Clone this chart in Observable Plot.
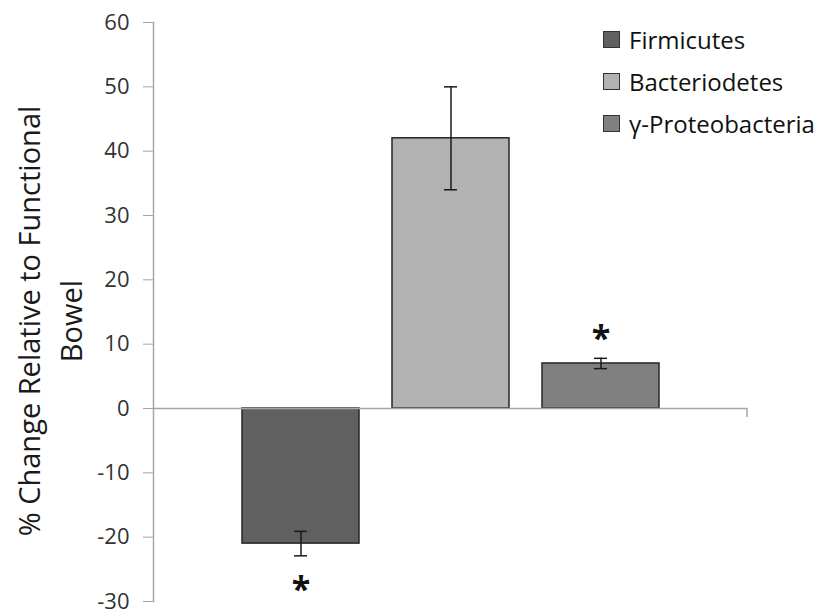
<!DOCTYPE html>
<html>
<head>
<meta charset="utf-8">
<script src="https://cdn.jsdelivr.net/npm/d3@7"></script>
<script src="https://cdn.jsdelivr.net/npm/@observablehq/plot@0.6"></script>
<style>
  html, body { margin: 0; padding: 0; background: #fff; }
  #wrap { position: relative; width: 830px; height: 611px; font-family: "Open Sans", sans-serif; }
  #legend { position: absolute; left: 603px; top: 18px; }
  .row { display: flex; align-items: center; height: 42px; font-size: 24px; color: #111; }
  .sw { width: 15px; height: 15px; border: 1px solid #333; margin-right: 9px; box-sizing: content-box; }
</style>
</head>
<body>
<div id="wrap">
  <div id="chart"></div>
  <div id="legend"></div>
</div>
<script>
const categories = ["Firmicutes", "Bacteriodetes", "γ-Proteobacteria"];
const values = [-21, 42, 7];
const errors = [1.9, 8, 0.8];
const colors = ["#606060", "#b2b2b2", "#808080"];
const starCategories = ["Firmicutes", "γ-Proteobacteria"];
const starValues = [-28.3, 10.75];
const yTicks = [-30, -20, -10, 0, 10, 20, 30, 40, 50, 60];
const yLabel = "% Change Relative to Functional\nBowel";

const table = categories.map((c, i) => ({
  category: c, value: values[i], lo: values[i] - errors[i], hi: values[i] + errors[i]
}));
const stars = starCategories.map((c, i) => ({category: c, y: starValues[i]}));

const plot = Plot.plot({
  width: 830,
  height: 611,
  marginLeft: 153,
  marginRight: 83,
  marginTop: 22,
  marginBottom: 10,
  x: {domain: categories, paddingInner: 0.221, paddingOuter: 0.587, axis: null},
  y: {domain: [-30, 60], axis: null},
  color: {domain: categories, range: colors},
  style: {fontFamily: "'Open Sans', sans-serif", background: "white", color: "#222", overflow: "visible"},
  marks: [
    Plot.frame({anchor: "left", stroke: "#a6a6a6", strokeWidth: 1.5}),
    Plot.axisY({ticks: yTicks, tickSize: 10, tickPadding: 14, fontSize: 22, stroke: "#a6a6a6", fill: "#333", label: null, tickFormat: d => String(d)}),
    Plot.barY(table, {x: "category", y: "value", fill: "category", stroke: "#262626", strokeWidth: 1.5}),
    Plot.ruleY([0], {stroke: "#a6a6a6", strokeWidth: 1.5}),
    Plot.ruleX(table, {x: "category", y1: "lo", y2: "hi", stroke: "#1a1a1a", strokeWidth: 1.5}),
    Plot.tickY(table, {x: "category", y: "lo", insetLeft: 52, insetRight: 52, stroke: "#1a1a1a", strokeWidth: 1.5}),
    Plot.tickY(table, {x: "category", y: "hi", insetLeft: 52, insetRight: 52, stroke: "#1a1a1a", strokeWidth: 1.5}),
    Plot.text(stars, {x: "category", y: "y", text: d => "*", fontSize: 34, fontWeight: "bold", fill: "#111"}),
    Plot.text([yLabel], {frameAnchor: "left", textAnchor: "middle", rotate: -90, dx: -106, dy: 9, fontSize: 29, lineHeight: 1.45, text: d => d, fill: "#1a1a1a"})
  ]
});

// small tick at the right end of the category axis, positioned through the plot's scales
const ys = plot.scale("y");
const xs = plot.scale("x");
const y0 = ys.apply(0);
const xr = xs.range[1];
d3.select(plot).append("line")
  .attr("x1", xr).attr("x2", xr).attr("y1", y0).attr("y2", y0 + 9)
  .attr("stroke", "#a6a6a6").attr("stroke-width", 1.5);

document.getElementById("chart").appendChild(plot);

const legend = document.getElementById("legend");
categories.forEach((c, i) => {
  const row = document.createElement("div");
  row.className = "row";
  const sw = document.createElement("div");
  sw.className = "sw";
  sw.style.background = colors[i];
  const t = document.createElement("span");
  t.textContent = c;
  row.appendChild(sw);
  row.appendChild(t);
  legend.appendChild(row);
});
</script>
</body>
</html>
